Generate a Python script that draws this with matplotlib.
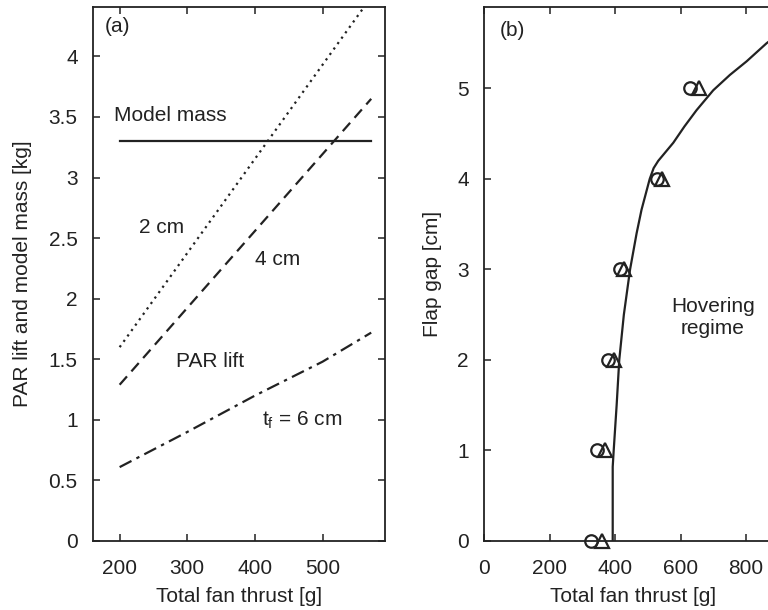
import matplotlib.pyplot as plt

plt.rcParams['font.family'] = ['Liberation Sans', 'DejaVu Sans']
plt.rcParams['font.size'] = 15

ink = '#222222'

# panel (a): PAR lift vs total fan thrust
thrust_a = [200, 572]
mass_model = [3.3, 3.3]
lift_2cm = [1.6, 4.49]
lift_4cm = [1.29, 3.65]
thrust_6cm = [200, 300, 400, 500, 572]
lift_6cm = [0.61, 0.90, 1.20, 1.48, 1.72]

# panel (b): flap gap vs thrust
gap_curve = [0, 0.82, 1.0, 1.5, 2.0, 2.5, 3.0, 3.4, 3.66, 4.0, 4.12, 4.2, 4.3, 4.4,
             4.58, 4.76, 4.98, 5.15, 5.3, 5.5, 5.56]
thrust_curve = [393, 393, 396, 405, 413, 427, 446, 466, 481, 506, 518, 532, 555, 578,
                612, 649, 700, 751, 802, 863, 885]
gap_pts = [0, 1, 2, 3, 4, 5]
thrust_circ = [326, 344, 380, 415, 529, 630]
thrust_tri = [360, 370, 398, 428, 542, 658]

fig = plt.figure(figsize=(7.68, 6.10), dpi=100)
ax1 = fig.add_axes([93/768, 1-541/610, 292/768, 534/610])
ax2 = fig.add_axes([484/768, 1-541/610, 327.5/768, 534/610])

ax1.plot(thrust_a, mass_model, color=ink, lw=1.6)
ax1.plot(thrust_a, lift_2cm, color=ink, lw=1.6, ls=(0, (1, 2)))
ax1.plot(thrust_a, lift_4cm, color=ink, lw=1.6, ls=(0, (5, 3)))
ax1.plot(thrust_6cm, lift_6cm, color=ink, lw=1.6, ls=(0, (6, 2.5, 1.5, 2.5)))

ax1.set_xlim(160.6, 592.4)
ax1.set_ylim(0, 4.408)
ax1.set_xticks([200, 300, 400, 500])
ax1.set_yticks([0, 0.5, 1, 1.5, 2, 2.5, 3, 3.5, 4])
ax1.set_yticklabels(['0', '0.5', '1', '1.5', '2', '2.5', '3', '3.5', '4'])
ax1.set_xlabel('Total fan thrust [g]', color=ink)
ax1.set_ylabel('PAR lift and model mass [kg]', color=ink)
ax1.xaxis.set_label_coords(0.5, -0.086)
ax1.yaxis.set_label_coords(-0.209, 0.5)

ax1.text(178, 4.25, '(a)', color=ink, va='center')
ax1.text(192, 3.51, 'Model mass', color=ink, va='center')
ax1.text(229, 2.59, '2 cm', color=ink, va='center')
ax1.text(400, 2.32, '4 cm', color=ink, va='center')
ax1.text(283, 1.48, 'PAR lift', color=ink, va='center')
ax1.text(410, 1.0, r'$\mathregular{t_f}$ = 6 cm', color=ink, va='center')

ax2.plot(thrust_curve, gap_curve, color=ink, lw=1.6)
ax2.plot(thrust_circ, gap_pts, 'o', mfc='none', mec=ink, mew=1.6, ms=9, clip_on=False)
ax2.plot(thrust_tri, gap_pts, '^', mfc='none', mec=ink, mew=1.6, ms=10, clip_on=False)

ax2.set_xlim(0, 1000)
ax2.set_ylim(0, 5.9)
ax2.set_xticks([0, 200, 400, 600, 800])
ax2.set_yticks([0, 1, 2, 3, 4, 5])
ax2.set_xlabel('Total fan thrust [g]', color=ink)
ax2.set_ylabel('Flap gap [cm]', color=ink)
ax2.xaxis.set_label_coords(0.455, -0.086)
ax2.yaxis.set_label_coords(-0.128, 0.5)
ax2.text(49, 5.64, '(b)', color=ink, va='center')
ax2.text(699, 2.47, 'Hovering\nregime', color=ink, ha='center', va='center', linespacing=1.2)

for ax in (ax1, ax2):
    for s in ax.spines.values():
        s.set_color(ink)
        s.set_linewidth(1.3)
    ax.tick_params(direction='in', top=True, right=True, length=5, width=1.1,
                   colors=ink)
    ax.tick_params(axis='x', pad=13)
    ax.tick_params(axis='y', pad=11)

fig.savefig('out.png', dpi=100)
